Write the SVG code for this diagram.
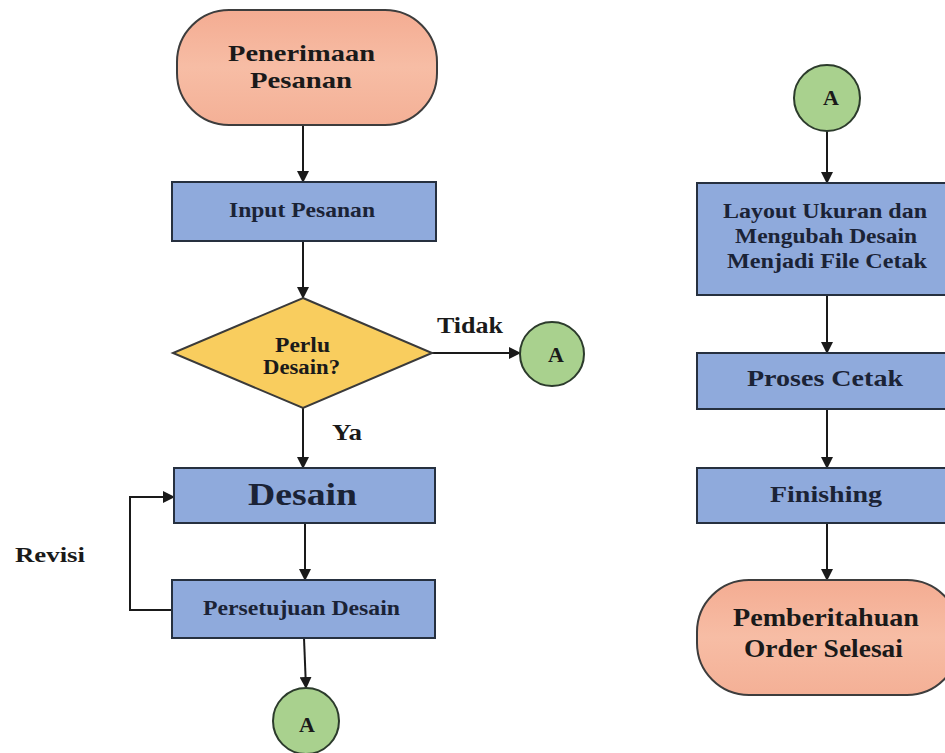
<svg xmlns="http://www.w3.org/2000/svg" width="945" height="753" viewBox="0 0 945 753">
<defs>
<linearGradient id="gOrange" x1="0" y1="0" x2="0" y2="1">
<stop offset="0" stop-color="#F4AC92"/>
<stop offset="0.5" stop-color="#F7BDA5"/>
<stop offset="1" stop-color="#F4B096"/>
</linearGradient>
<marker id="arr" viewBox="0 0 12 12" refX="11" refY="6" markerWidth="12" markerHeight="12" markerUnits="userSpaceOnUse" orient="auto">
<path d="M0,0 L12,6 L0,12 Z" fill="#1a1a1a"/>
</marker>
<style>
.term{fill:url(#gOrange);stroke:#3d3d3d;stroke-width:2}
.proc{fill:#8FAADC;stroke:#26303f;stroke-width:2}
.dec{fill:#F9CD5E;stroke:#3a3a3a;stroke-width:2}
.conn{fill:#A9D18E;stroke:#2c3b2c;stroke-width:2}
.t{font-family:"Liberation Serif","Times New Roman",serif;font-weight:bold;fill:#1a1a1a}
.tb{font-family:"Liberation Serif","Times New Roman",serif;font-weight:bold;fill:#1b2336}
.line{fill:none;stroke:#1a1a1a;stroke-width:2}
</style>
</defs>
<rect width="945" height="753" fill="#ffffff"/>

<g id="connectors">
<line class="line" x1="303" y1="125" x2="303" y2="182" marker-end="url(#arr)"/>
<line class="line" x1="303" y1="241" x2="303" y2="298" marker-end="url(#arr)"/>
<line class="line" x1="432" y1="353" x2="520" y2="353" marker-end="url(#arr)"/>
<line class="line" x1="303" y1="408" x2="303" y2="468" marker-end="url(#arr)"/>
<line class="line" x1="305" y1="523" x2="305" y2="580" marker-end="url(#arr)"/>
<line class="line" x1="304" y1="638" x2="306" y2="688" marker-end="url(#arr)"/>
<polyline class="line" points="172,610 130,610 130,497 174,497" marker-end="url(#arr)"/>
<line class="line" x1="827" y1="131" x2="827" y2="183" marker-end="url(#arr)"/>
<line class="line" x1="827" y1="295" x2="827" y2="353" marker-end="url(#arr)"/>
<line class="line" x1="827" y1="409" x2="827" y2="468" marker-end="url(#arr)"/>
<line class="line" x1="827" y1="523" x2="827" y2="580" marker-end="url(#arr)"/>
<text class="t" x="437" y="333" font-size="23" textLength="66" lengthAdjust="spacingAndGlyphs">Tidak</text>
<text class="t" x="332" y="440" font-size="23" textLength="30" lengthAdjust="spacingAndGlyphs">Ya</text>
<text class="t" x="15" y="562" font-size="22" textLength="70" lengthAdjust="spacingAndGlyphs">Revisi</text>
</g>

<g id="start">
<rect class="term" x="177" y="10" width="260" height="115" rx="52" ry="52"/>
<text class="t" x="228" y="61" font-size="24" textLength="147" lengthAdjust="spacingAndGlyphs">Penerimaan</text>
<text class="t" x="250" y="88" font-size="24" textLength="102" lengthAdjust="spacingAndGlyphs">Pesanan</text>
</g>

<g id="input">
<rect class="proc" x="172" y="182" width="264" height="59"/>
<text class="tb" x="229" y="217" font-size="21" textLength="146" lengthAdjust="spacingAndGlyphs">Input Pesanan</text>
</g>

<g id="decision">
<polygon class="dec" points="303,298 432,353 303,408 173,353"/>
<text class="t" x="275" y="352" font-size="20" textLength="55" lengthAdjust="spacingAndGlyphs">Perlu</text>
<text class="t" x="263" y="374" font-size="20" textLength="77" lengthAdjust="spacingAndGlyphs">Desain?</text>
</g>

<g id="connA1">
<circle class="conn" cx="552" cy="354" r="32"/>
<text class="t" x="556" y="362" font-size="22" text-anchor="middle">A</text>
</g>

<g id="desain">
<rect class="proc" x="174" y="468" width="261" height="55"/>
<text class="tb" x="248" y="505" font-size="32" textLength="109" lengthAdjust="spacingAndGlyphs">Desain</text>
</g>

<g id="persetujuan">
<rect class="proc" x="172" y="580" width="263" height="58"/>
<text class="tb" x="203" y="615" font-size="21" textLength="197" lengthAdjust="spacingAndGlyphs">Persetujuan Desain</text>
</g>

<g id="connA2">
<circle class="conn" cx="306" cy="721" r="33"/>
<text class="t" x="307" y="732" font-size="22" text-anchor="middle">A</text>
</g>

<g id="connA3">
<circle class="conn" cx="827" cy="98" r="33"/>
<text class="t" x="831" y="105" font-size="22" text-anchor="middle">A</text>
</g>

<g id="layout">
<rect class="proc" x="697" y="183" width="262" height="112"/>
<text class="tb" x="723" y="218" font-size="20" textLength="204" lengthAdjust="spacingAndGlyphs">Layout Ukuran dan</text>
<text class="tb" x="735" y="243" font-size="20" textLength="182" lengthAdjust="spacingAndGlyphs">Mengubah Desain</text>
<text class="tb" x="727" y="268" font-size="20" textLength="200" lengthAdjust="spacingAndGlyphs">Menjadi File Cetak</text>
</g>

<g id="proses">
<rect class="proc" x="697" y="353" width="262" height="56"/>
<text class="tb" x="747" y="386" font-size="24" textLength="156" lengthAdjust="spacingAndGlyphs">Proses Cetak</text>
</g>

<g id="finishing">
<rect class="proc" x="697" y="468" width="262" height="55"/>
<text class="tb" x="770" y="502" font-size="24" textLength="112" lengthAdjust="spacingAndGlyphs">Finishing</text>
</g>

<g id="end">
<rect class="term" x="697" y="580" width="262" height="115" rx="52" ry="52"/>
<text class="t" x="733" y="626" font-size="26" textLength="186" lengthAdjust="spacingAndGlyphs">Pemberitahuan</text>
<text class="t" x="744" y="657" font-size="26" textLength="159" lengthAdjust="spacingAndGlyphs">Order Selesai</text>
</g>
</svg>
